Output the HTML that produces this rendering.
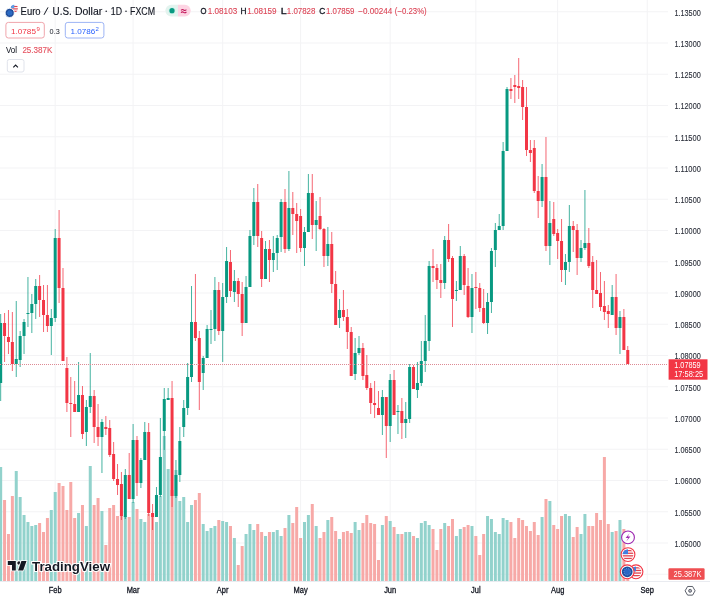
<!DOCTYPE html><html><head><meta charset="utf-8"><style>html,body{margin:0;padding:0;background:#fff;width:710px;height:600px;overflow:hidden}svg{position:absolute;left:0;top:0;font-family:"Liberation Sans",sans-serif;will-change:transform}</style></head><body>
<svg width="710" height="600" viewBox="0 0 710 600">
<rect width="710" height="600" fill="#fff"/>
<g stroke="#f3f3f5" stroke-width="1"><line x1="0" y1="11.75" x2="668" y2="11.75"/><line x1="0" y1="43.00" x2="668" y2="43.00"/><line x1="0" y1="74.25" x2="668" y2="74.25"/><line x1="0" y1="105.50" x2="668" y2="105.50"/><line x1="0" y1="136.75" x2="668" y2="136.75"/><line x1="0" y1="168.00" x2="668" y2="168.00"/><line x1="0" y1="199.25" x2="668" y2="199.25"/><line x1="0" y1="230.50" x2="668" y2="230.50"/><line x1="0" y1="261.75" x2="668" y2="261.75"/><line x1="0" y1="293.00" x2="668" y2="293.00"/><line x1="0" y1="324.25" x2="668" y2="324.25"/><line x1="0" y1="355.50" x2="668" y2="355.50"/><line x1="0" y1="386.75" x2="668" y2="386.75"/><line x1="0" y1="418.00" x2="668" y2="418.00"/><line x1="0" y1="449.25" x2="668" y2="449.25"/><line x1="0" y1="480.50" x2="668" y2="480.50"/><line x1="0" y1="511.75" x2="668" y2="511.75"/><line x1="0" y1="543.00" x2="668" y2="543.00"/><line x1="0" y1="574.25" x2="668" y2="574.25"/><line x1="55.20" y1="0" x2="55.20" y2="581"/><line x1="133.10" y1="0" x2="133.10" y2="581"/><line x1="222.69" y1="0" x2="222.69" y2="581"/><line x1="300.59" y1="0" x2="300.59" y2="581"/><line x1="390.17" y1="0" x2="390.17" y2="581"/><line x1="475.86" y1="0" x2="475.86" y2="581"/><line x1="557.65" y1="0" x2="557.65" y2="581"/><line x1="647.24" y1="0" x2="647.24" y2="581"/></g>
<g><rect x="-0.83" y="467.0" width="3" height="114.0" fill="#92d2cc"/><rect x="3.07" y="500.0" width="3" height="81.0" fill="#f7a9a7"/><rect x="6.96" y="534.0" width="3" height="47.0" fill="#f7a9a7"/><rect x="10.86" y="496.0" width="3" height="85.0" fill="#f7a9a7"/><rect x="14.75" y="471.0" width="3" height="110.0" fill="#92d2cc"/><rect x="18.65" y="497.0" width="3" height="84.0" fill="#92d2cc"/><rect x="22.54" y="515.0" width="3" height="66.0" fill="#92d2cc"/><rect x="26.44" y="522.0" width="3" height="59.0" fill="#92d2cc"/><rect x="30.33" y="526.0" width="3" height="55.0" fill="#92d2cc"/><rect x="34.23" y="525.0" width="3" height="56.0" fill="#92d2cc"/><rect x="38.12" y="523.0" width="3" height="58.0" fill="#f7a9a7"/><rect x="42.02" y="532.0" width="3" height="49.0" fill="#f7a9a7"/><rect x="45.91" y="518.0" width="3" height="63.0" fill="#f7a9a7"/><rect x="49.80" y="510.0" width="3" height="71.0" fill="#92d2cc"/><rect x="53.70" y="492.0" width="3" height="89.0" fill="#92d2cc"/><rect x="57.59" y="483.0" width="3" height="98.0" fill="#f7a9a7"/><rect x="61.49" y="486.0" width="3" height="95.0" fill="#f7a9a7"/><rect x="65.39" y="510.0" width="3" height="71.0" fill="#f7a9a7"/><rect x="69.28" y="482.0" width="3" height="99.0" fill="#f7a9a7"/><rect x="73.17" y="518.0" width="3" height="63.0" fill="#f7a9a7"/><rect x="77.07" y="513.0" width="3" height="68.0" fill="#92d2cc"/><rect x="80.97" y="505.0" width="3" height="76.0" fill="#f7a9a7"/><rect x="84.86" y="526.0" width="3" height="55.0" fill="#92d2cc"/><rect x="88.75" y="466.0" width="3" height="115.0" fill="#92d2cc"/><rect x="92.65" y="505.0" width="3" height="76.0" fill="#f7a9a7"/><rect x="96.55" y="498.0" width="3" height="83.0" fill="#f7a9a7"/><rect x="100.44" y="511.0" width="3" height="70.0" fill="#92d2cc"/><rect x="104.34" y="545.0" width="3" height="36.0" fill="#f7a9a7"/><rect x="108.23" y="508.0" width="3" height="73.0" fill="#f7a9a7"/><rect x="112.12" y="505.0" width="3" height="76.0" fill="#f7a9a7"/><rect x="116.02" y="516.0" width="3" height="65.0" fill="#f7a9a7"/><rect x="119.92" y="515.0" width="3" height="66.0" fill="#f7a9a7"/><rect x="123.81" y="516.0" width="3" height="65.0" fill="#92d2cc"/><rect x="127.70" y="517.0" width="3" height="64.0" fill="#f7a9a7"/><rect x="131.60" y="502.0" width="3" height="79.0" fill="#92d2cc"/><rect x="135.49" y="509.0" width="3" height="72.0" fill="#f7a9a7"/><rect x="139.39" y="519.0" width="3" height="62.0" fill="#92d2cc"/><rect x="143.28" y="522.0" width="3" height="59.0" fill="#92d2cc"/><rect x="147.18" y="514.0" width="3" height="67.0" fill="#f7a9a7"/><rect x="151.07" y="517.0" width="3" height="64.0" fill="#f7a9a7"/><rect x="154.97" y="522.0" width="3" height="59.0" fill="#92d2cc"/><rect x="158.86" y="496.0" width="3" height="85.0" fill="#92d2cc"/><rect x="162.76" y="436.0" width="3" height="145.0" fill="#92d2cc"/><rect x="166.66" y="469.0" width="3" height="112.0" fill="#92d2cc"/><rect x="170.55" y="490.0" width="3" height="91.0" fill="#f7a9a7"/><rect x="174.44" y="470.0" width="3" height="111.0" fill="#92d2cc"/><rect x="178.34" y="501.0" width="3" height="80.0" fill="#92d2cc"/><rect x="182.23" y="497.0" width="3" height="84.0" fill="#92d2cc"/><rect x="186.13" y="522.0" width="3" height="59.0" fill="#92d2cc"/><rect x="190.02" y="505.0" width="3" height="76.0" fill="#92d2cc"/><rect x="193.92" y="500.0" width="3" height="81.0" fill="#f7a9a7"/><rect x="197.81" y="493.0" width="3" height="88.0" fill="#f7a9a7"/><rect x="201.71" y="524.0" width="3" height="57.0" fill="#92d2cc"/><rect x="205.60" y="531.0" width="3" height="50.0" fill="#92d2cc"/><rect x="209.50" y="528.0" width="3" height="53.0" fill="#92d2cc"/><rect x="213.39" y="526.0" width="3" height="55.0" fill="#92d2cc"/><rect x="217.29" y="520.0" width="3" height="61.0" fill="#f7a9a7"/><rect x="221.19" y="521.0" width="3" height="60.0" fill="#92d2cc"/><rect x="225.08" y="522.0" width="3" height="59.0" fill="#92d2cc"/><rect x="228.97" y="526.0" width="3" height="55.0" fill="#f7a9a7"/><rect x="232.87" y="538.0" width="3" height="43.0" fill="#92d2cc"/><rect x="236.76" y="565.0" width="3" height="16.0" fill="#f7a9a7"/><rect x="240.66" y="546.0" width="3" height="35.0" fill="#f7a9a7"/><rect x="244.55" y="534.0" width="3" height="47.0" fill="#92d2cc"/><rect x="248.45" y="524.0" width="3" height="57.0" fill="#92d2cc"/><rect x="252.34" y="530.0" width="3" height="51.0" fill="#92d2cc"/><rect x="256.24" y="524.0" width="3" height="57.0" fill="#f7a9a7"/><rect x="260.13" y="532.0" width="3" height="49.0" fill="#f7a9a7"/><rect x="264.03" y="536.0" width="3" height="45.0" fill="#92d2cc"/><rect x="267.93" y="532.0" width="3" height="49.0" fill="#f7a9a7"/><rect x="271.82" y="532.0" width="3" height="49.0" fill="#92d2cc"/><rect x="275.72" y="530.0" width="3" height="51.0" fill="#92d2cc"/><rect x="279.61" y="536.0" width="3" height="45.0" fill="#92d2cc"/><rect x="283.50" y="528.0" width="3" height="53.0" fill="#f7a9a7"/><rect x="287.40" y="515.0" width="3" height="66.0" fill="#92d2cc"/><rect x="291.30" y="523.0" width="3" height="58.0" fill="#f7a9a7"/><rect x="295.19" y="507.0" width="3" height="74.0" fill="#f7a9a7"/><rect x="299.09" y="538.0" width="3" height="43.0" fill="#f7a9a7"/><rect x="302.98" y="522.0" width="3" height="59.0" fill="#92d2cc"/><rect x="306.88" y="515.0" width="3" height="66.0" fill="#92d2cc"/><rect x="310.77" y="504.0" width="3" height="77.0" fill="#f7a9a7"/><rect x="314.67" y="526.0" width="3" height="55.0" fill="#92d2cc"/><rect x="318.56" y="538.0" width="3" height="43.0" fill="#f7a9a7"/><rect x="322.46" y="532.0" width="3" height="49.0" fill="#f7a9a7"/><rect x="326.35" y="520.0" width="3" height="61.0" fill="#92d2cc"/><rect x="330.25" y="517.0" width="3" height="64.0" fill="#f7a9a7"/><rect x="334.14" y="531.0" width="3" height="50.0" fill="#f7a9a7"/><rect x="338.04" y="539.0" width="3" height="42.0" fill="#92d2cc"/><rect x="341.93" y="532.0" width="3" height="49.0" fill="#f7a9a7"/><rect x="345.83" y="531.0" width="3" height="50.0" fill="#f7a9a7"/><rect x="349.72" y="533.0" width="3" height="48.0" fill="#f7a9a7"/><rect x="353.62" y="522.0" width="3" height="59.0" fill="#92d2cc"/><rect x="357.51" y="530.0" width="3" height="51.0" fill="#92d2cc"/><rect x="361.41" y="523.0" width="3" height="58.0" fill="#f7a9a7"/><rect x="365.30" y="515.0" width="3" height="66.0" fill="#f7a9a7"/><rect x="369.19" y="523.0" width="3" height="58.0" fill="#f7a9a7"/><rect x="373.09" y="524.0" width="3" height="57.0" fill="#f7a9a7"/><rect x="376.99" y="560.0" width="3" height="21.0" fill="#f7a9a7"/><rect x="380.88" y="525.0" width="3" height="56.0" fill="#92d2cc"/><rect x="384.78" y="516.0" width="3" height="65.0" fill="#f7a9a7"/><rect x="388.67" y="521.0" width="3" height="60.0" fill="#92d2cc"/><rect x="392.56" y="527.0" width="3" height="54.0" fill="#f7a9a7"/><rect x="396.46" y="534.0" width="3" height="47.0" fill="#92d2cc"/><rect x="400.36" y="534.0" width="3" height="47.0" fill="#f7a9a7"/><rect x="404.25" y="532.0" width="3" height="49.0" fill="#92d2cc"/><rect x="408.15" y="532.0" width="3" height="49.0" fill="#92d2cc"/><rect x="412.04" y="536.0" width="3" height="45.0" fill="#f7a9a7"/><rect x="415.94" y="538.0" width="3" height="43.0" fill="#92d2cc"/><rect x="419.83" y="523.0" width="3" height="58.0" fill="#92d2cc"/><rect x="423.73" y="521.0" width="3" height="60.0" fill="#92d2cc"/><rect x="427.62" y="525.0" width="3" height="56.0" fill="#92d2cc"/><rect x="431.52" y="529.0" width="3" height="52.0" fill="#f7a9a7"/><rect x="435.41" y="550.0" width="3" height="31.0" fill="#f7a9a7"/><rect x="439.31" y="529.0" width="3" height="52.0" fill="#f7a9a7"/><rect x="443.20" y="523.0" width="3" height="58.0" fill="#92d2cc"/><rect x="447.10" y="526.0" width="3" height="55.0" fill="#f7a9a7"/><rect x="450.99" y="519.0" width="3" height="62.0" fill="#f7a9a7"/><rect x="454.88" y="536.0" width="3" height="45.0" fill="#92d2cc"/><rect x="458.78" y="529.0" width="3" height="52.0" fill="#92d2cc"/><rect x="462.68" y="527.0" width="3" height="54.0" fill="#f7a9a7"/><rect x="466.57" y="525.0" width="3" height="56.0" fill="#f7a9a7"/><rect x="470.47" y="526.0" width="3" height="55.0" fill="#92d2cc"/><rect x="474.36" y="536.0" width="3" height="45.0" fill="#f7a9a7"/><rect x="478.25" y="555.0" width="3" height="26.0" fill="#f7a9a7"/><rect x="482.15" y="534.0" width="3" height="47.0" fill="#f7a9a7"/><rect x="486.05" y="516.0" width="3" height="65.0" fill="#92d2cc"/><rect x="489.94" y="519.0" width="3" height="62.0" fill="#92d2cc"/><rect x="493.84" y="532.0" width="3" height="49.0" fill="#92d2cc"/><rect x="497.73" y="534.0" width="3" height="47.0" fill="#92d2cc"/><rect x="501.62" y="518.0" width="3" height="63.0" fill="#92d2cc"/><rect x="505.52" y="520.0" width="3" height="61.0" fill="#92d2cc"/><rect x="509.42" y="522.0" width="3" height="59.0" fill="#f7a9a7"/><rect x="513.31" y="538.0" width="3" height="43.0" fill="#f7a9a7"/><rect x="517.20" y="518.0" width="3" height="63.0" fill="#f7a9a7"/><rect x="521.10" y="520.0" width="3" height="61.0" fill="#f7a9a7"/><rect x="525.00" y="526.0" width="3" height="55.0" fill="#f7a9a7"/><rect x="528.89" y="531.0" width="3" height="50.0" fill="#f7a9a7"/><rect x="532.78" y="522.0" width="3" height="59.0" fill="#f7a9a7"/><rect x="536.68" y="535.0" width="3" height="46.0" fill="#f7a9a7"/><rect x="540.57" y="517.0" width="3" height="64.0" fill="#92d2cc"/><rect x="544.47" y="499.0" width="3" height="82.0" fill="#f7a9a7"/><rect x="548.37" y="501.0" width="3" height="80.0" fill="#92d2cc"/><rect x="552.26" y="525.0" width="3" height="56.0" fill="#f7a9a7"/><rect x="556.15" y="529.0" width="3" height="52.0" fill="#f7a9a7"/><rect x="560.05" y="516.0" width="3" height="65.0" fill="#f7a9a7"/><rect x="563.94" y="514.0" width="3" height="67.0" fill="#92d2cc"/><rect x="567.84" y="516.0" width="3" height="65.0" fill="#92d2cc"/><rect x="571.74" y="537.0" width="3" height="44.0" fill="#f7a9a7"/><rect x="575.63" y="527.0" width="3" height="54.0" fill="#f7a9a7"/><rect x="579.52" y="534.0" width="3" height="47.0" fill="#92d2cc"/><rect x="583.42" y="514.0" width="3" height="67.0" fill="#92d2cc"/><rect x="587.31" y="526.0" width="3" height="55.0" fill="#f7a9a7"/><rect x="591.21" y="526.0" width="3" height="55.0" fill="#f7a9a7"/><rect x="595.11" y="513.0" width="3" height="68.0" fill="#f7a9a7"/><rect x="599.00" y="520.0" width="3" height="61.0" fill="#f7a9a7"/><rect x="602.89" y="457.0" width="3" height="124.0" fill="#f7a9a7"/><rect x="606.79" y="524.0" width="3" height="57.0" fill="#f7a9a7"/><rect x="610.68" y="532.0" width="3" height="49.0" fill="#92d2cc"/><rect x="614.58" y="531.0" width="3" height="50.0" fill="#f7a9a7"/><rect x="618.47" y="520.0" width="3" height="61.0" fill="#92d2cc"/><rect x="622.37" y="529.0" width="3" height="52.0" fill="#f7a9a7"/><rect x="626.26" y="574.0" width="3" height="7.0" fill="#f7a9a7"/></g>
<g><rect x="0.17" y="314.0" width="1" height="87.0" fill="#089981" opacity="0.75"/><rect x="-0.83" y="323.0" width="3" height="60.0" fill="#089981"/><rect x="4.07" y="313.0" width="1" height="49.0" fill="#f23645" opacity="0.75"/><rect x="3.07" y="323.0" width="3" height="13.0" fill="#f23645"/><rect x="7.96" y="310.0" width="1" height="44.0" fill="#f23645" opacity="0.75"/><rect x="6.96" y="337.0" width="3" height="5.0" fill="#f23645"/><rect x="11.86" y="312.0" width="1" height="59.0" fill="#f23645" opacity="0.75"/><rect x="10.86" y="342.0" width="3" height="22.0" fill="#f23645"/><rect x="15.75" y="301.0" width="1" height="76.0" fill="#089981" opacity="0.75"/><rect x="14.75" y="359.0" width="3" height="5.0" fill="#089981"/><rect x="19.65" y="331.0" width="1" height="36.0" fill="#089981" opacity="0.75"/><rect x="18.65" y="336.0" width="3" height="24.0" fill="#089981"/><rect x="23.54" y="319.0" width="1" height="35.0" fill="#089981" opacity="0.75"/><rect x="22.54" y="322.0" width="3" height="14.0" fill="#089981"/><rect x="27.44" y="277.0" width="1" height="50.0" fill="#089981" opacity="0.75"/><rect x="26.44" y="313.0" width="3" height="1.0" fill="#089981"/><rect x="31.33" y="294.0" width="1" height="39.0" fill="#089981" opacity="0.75"/><rect x="30.33" y="304.0" width="3" height="9.0" fill="#089981"/><rect x="35.23" y="279.0" width="1" height="40.0" fill="#089981" opacity="0.75"/><rect x="34.23" y="286.0" width="3" height="18.0" fill="#089981"/><rect x="39.12" y="275.0" width="1" height="42.0" fill="#f23645" opacity="0.75"/><rect x="38.12" y="286.0" width="3" height="14.0" fill="#f23645"/><rect x="43.02" y="285.0" width="1" height="47.0" fill="#f23645" opacity="0.75"/><rect x="42.02" y="300.0" width="3" height="15.0" fill="#f23645"/><rect x="46.91" y="285.0" width="1" height="47.0" fill="#f23645" opacity="0.75"/><rect x="45.91" y="315.0" width="3" height="11.0" fill="#f23645"/><rect x="50.80" y="309.0" width="1" height="46.0" fill="#089981" opacity="0.75"/><rect x="49.80" y="318.0" width="3" height="8.0" fill="#089981"/><rect x="54.70" y="229.0" width="1" height="93.0" fill="#089981" opacity="0.75"/><rect x="53.70" y="238.0" width="3" height="80.0" fill="#089981"/><rect x="58.59" y="210.0" width="1" height="93.0" fill="#f23645" opacity="0.75"/><rect x="57.59" y="238.0" width="3" height="50.0" fill="#f23645"/><rect x="62.49" y="268.0" width="1" height="93.0" fill="#f23645" opacity="0.75"/><rect x="61.49" y="288.0" width="3" height="73.0" fill="#f23645"/><rect x="66.39" y="357.0" width="1" height="55.0" fill="#f23645" opacity="0.75"/><rect x="65.39" y="368.0" width="3" height="35.0" fill="#f23645"/><rect x="70.28" y="377.0" width="1" height="60.0" fill="#f23645" opacity="0.75"/><rect x="69.28" y="403.0" width="3" height="1.0" fill="#f23645"/><rect x="74.17" y="381.0" width="1" height="31.0" fill="#f23645" opacity="0.75"/><rect x="73.17" y="404.0" width="3" height="8.0" fill="#f23645"/><rect x="78.07" y="362.0" width="1" height="50.0" fill="#089981" opacity="0.75"/><rect x="77.07" y="395.0" width="3" height="17.0" fill="#089981"/><rect x="81.97" y="386.0" width="1" height="53.0" fill="#f23645" opacity="0.75"/><rect x="80.97" y="395.0" width="3" height="39.0" fill="#f23645"/><rect x="85.86" y="400.0" width="1" height="46.0" fill="#089981" opacity="0.75"/><rect x="84.86" y="407.0" width="3" height="25.0" fill="#089981"/><rect x="89.75" y="353.0" width="1" height="60.0" fill="#089981" opacity="0.75"/><rect x="88.75" y="396.0" width="3" height="11.0" fill="#089981"/><rect x="93.65" y="390.0" width="1" height="53.0" fill="#f23645" opacity="0.75"/><rect x="92.65" y="396.0" width="3" height="31.0" fill="#f23645"/><rect x="97.55" y="404.0" width="1" height="42.0" fill="#f23645" opacity="0.75"/><rect x="96.55" y="427.0" width="3" height="10.0" fill="#f23645"/><rect x="101.44" y="419.0" width="1" height="54.0" fill="#089981" opacity="0.75"/><rect x="100.44" y="422.0" width="3" height="15.0" fill="#089981"/><rect x="105.34" y="416.0" width="1" height="19.0" fill="#f23645" opacity="0.75"/><rect x="104.34" y="427.0" width="3" height="2.0" fill="#f23645"/><rect x="109.23" y="420.0" width="1" height="37.0" fill="#f23645" opacity="0.75"/><rect x="108.23" y="428.0" width="3" height="27.0" fill="#f23645"/><rect x="113.12" y="442.0" width="1" height="39.0" fill="#f23645" opacity="0.75"/><rect x="112.12" y="454.0" width="3" height="25.0" fill="#f23645"/><rect x="117.02" y="464.0" width="1" height="31.0" fill="#f23645" opacity="0.75"/><rect x="116.02" y="479.0" width="3" height="6.0" fill="#f23645"/><rect x="120.92" y="472.0" width="1" height="48.0" fill="#f23645" opacity="0.75"/><rect x="119.92" y="484.0" width="3" height="32.0" fill="#f23645"/><rect x="124.81" y="469.0" width="1" height="50.0" fill="#089981" opacity="0.75"/><rect x="123.81" y="475.0" width="3" height="42.0" fill="#089981"/><rect x="128.70" y="453.0" width="1" height="46.0" fill="#f23645" opacity="0.75"/><rect x="127.70" y="475.0" width="3" height="24.0" fill="#f23645"/><rect x="132.60" y="424.0" width="1" height="79.0" fill="#089981" opacity="0.75"/><rect x="131.60" y="440.0" width="3" height="59.0" fill="#089981"/><rect x="136.49" y="436.0" width="1" height="60.0" fill="#f23645" opacity="0.75"/><rect x="135.49" y="440.0" width="3" height="43.0" fill="#f23645"/><rect x="140.39" y="458.0" width="1" height="30.0" fill="#089981" opacity="0.75"/><rect x="139.39" y="460.0" width="3" height="23.0" fill="#089981"/><rect x="144.28" y="422.0" width="1" height="38.0" fill="#089981" opacity="0.75"/><rect x="143.28" y="432.0" width="3" height="28.0" fill="#089981"/><rect x="148.18" y="423.0" width="1" height="93.0" fill="#f23645" opacity="0.75"/><rect x="147.18" y="432.0" width="3" height="81.0" fill="#f23645"/><rect x="152.07" y="504.0" width="1" height="26.0" fill="#f23645" opacity="0.75"/><rect x="151.07" y="513.0" width="3" height="4.0" fill="#f23645"/><rect x="155.97" y="487.0" width="1" height="30.0" fill="#089981" opacity="0.75"/><rect x="154.97" y="495.0" width="3" height="22.0" fill="#089981"/><rect x="159.86" y="418.0" width="1" height="79.0" fill="#089981" opacity="0.75"/><rect x="158.86" y="457.0" width="3" height="38.0" fill="#089981"/><rect x="163.76" y="388.0" width="1" height="62.0" fill="#089981" opacity="0.75"/><rect x="162.76" y="399.0" width="3" height="32.0" fill="#089981"/><rect x="167.66" y="388.0" width="1" height="12.0" fill="#089981" opacity="0.75"/><rect x="166.66" y="398.0" width="3" height="2.0" fill="#089981"/><rect x="171.55" y="381.0" width="1" height="126.0" fill="#f23645" opacity="0.75"/><rect x="170.55" y="398.0" width="3" height="98.0" fill="#f23645"/><rect x="175.44" y="460.0" width="1" height="38.0" fill="#089981" opacity="0.75"/><rect x="174.44" y="475.0" width="3" height="21.0" fill="#089981"/><rect x="179.34" y="427.0" width="1" height="55.0" fill="#089981" opacity="0.75"/><rect x="178.34" y="441.0" width="3" height="34.0" fill="#089981"/><rect x="183.23" y="400.0" width="1" height="37.0" fill="#089981" opacity="0.75"/><rect x="182.23" y="408.0" width="3" height="19.0" fill="#089981"/><rect x="187.13" y="363.0" width="1" height="52.0" fill="#089981" opacity="0.75"/><rect x="186.13" y="377.0" width="3" height="31.0" fill="#089981"/><rect x="191.02" y="286.0" width="1" height="96.0" fill="#089981" opacity="0.75"/><rect x="190.02" y="322.0" width="3" height="55.0" fill="#089981"/><rect x="194.92" y="274.0" width="1" height="67.0" fill="#f23645" opacity="0.75"/><rect x="193.92" y="322.0" width="3" height="16.0" fill="#f23645"/><rect x="198.81" y="331.0" width="1" height="79.0" fill="#f23645" opacity="0.75"/><rect x="197.81" y="338.0" width="3" height="44.0" fill="#f23645"/><rect x="202.71" y="356.0" width="1" height="34.0" fill="#089981" opacity="0.75"/><rect x="201.71" y="358.0" width="3" height="15.0" fill="#089981"/><rect x="206.60" y="325.0" width="1" height="33.0" fill="#089981" opacity="0.75"/><rect x="205.60" y="329.0" width="3" height="29.0" fill="#089981"/><rect x="210.50" y="310.0" width="1" height="34.0" fill="#089981" opacity="0.75"/><rect x="209.50" y="329.0" width="3" height="1.0" fill="#089981"/><rect x="214.39" y="277.0" width="1" height="64.0" fill="#089981" opacity="0.75"/><rect x="213.39" y="290.0" width="3" height="39.0" fill="#089981"/><rect x="218.29" y="282.0" width="1" height="53.0" fill="#f23645" opacity="0.75"/><rect x="217.29" y="290.0" width="3" height="41.0" fill="#f23645"/><rect x="222.19" y="283.0" width="1" height="79.0" fill="#089981" opacity="0.75"/><rect x="221.19" y="297.0" width="3" height="34.0" fill="#089981"/><rect x="226.08" y="247.0" width="1" height="56.0" fill="#089981" opacity="0.75"/><rect x="225.08" y="261.0" width="3" height="36.0" fill="#089981"/><rect x="229.97" y="250.0" width="1" height="47.0" fill="#f23645" opacity="0.75"/><rect x="228.97" y="262.0" width="3" height="29.0" fill="#f23645"/><rect x="233.87" y="270.0" width="1" height="32.0" fill="#089981" opacity="0.75"/><rect x="232.87" y="281.0" width="3" height="11.0" fill="#089981"/><rect x="237.76" y="278.0" width="1" height="29.0" fill="#f23645" opacity="0.75"/><rect x="236.76" y="281.0" width="3" height="13.0" fill="#f23645"/><rect x="241.66" y="282.0" width="1" height="54.0" fill="#f23645" opacity="0.75"/><rect x="240.66" y="294.0" width="3" height="29.0" fill="#f23645"/><rect x="245.55" y="276.0" width="1" height="47.0" fill="#089981" opacity="0.75"/><rect x="244.55" y="287.0" width="3" height="36.0" fill="#089981"/><rect x="249.45" y="230.0" width="1" height="57.0" fill="#089981" opacity="0.75"/><rect x="248.45" y="236.0" width="3" height="51.0" fill="#089981"/><rect x="253.34" y="188.0" width="1" height="57.0" fill="#089981" opacity="0.75"/><rect x="252.34" y="202.0" width="3" height="34.0" fill="#089981"/><rect x="257.24" y="184.0" width="1" height="63.0" fill="#f23645" opacity="0.75"/><rect x="256.24" y="202.0" width="3" height="34.0" fill="#f23645"/><rect x="261.13" y="231.0" width="1" height="56.0" fill="#f23645" opacity="0.75"/><rect x="260.13" y="238.0" width="3" height="41.0" fill="#f23645"/><rect x="265.03" y="241.0" width="1" height="38.0" fill="#089981" opacity="0.75"/><rect x="264.03" y="249.0" width="3" height="30.0" fill="#089981"/><rect x="268.93" y="240.0" width="1" height="42.0" fill="#f23645" opacity="0.75"/><rect x="267.93" y="249.0" width="3" height="11.0" fill="#f23645"/><rect x="272.82" y="236.0" width="1" height="36.0" fill="#089981" opacity="0.75"/><rect x="271.82" y="253.0" width="3" height="7.0" fill="#089981"/><rect x="276.72" y="235.0" width="1" height="35.0" fill="#089981" opacity="0.75"/><rect x="275.72" y="238.0" width="3" height="15.0" fill="#089981"/><rect x="280.61" y="199.0" width="1" height="53.0" fill="#089981" opacity="0.75"/><rect x="279.61" y="202.0" width="3" height="35.0" fill="#089981"/><rect x="284.50" y="189.0" width="1" height="64.0" fill="#f23645" opacity="0.75"/><rect x="283.50" y="202.0" width="3" height="47.0" fill="#f23645"/><rect x="288.40" y="171.0" width="1" height="80.0" fill="#089981" opacity="0.75"/><rect x="287.40" y="208.0" width="3" height="41.0" fill="#089981"/><rect x="292.30" y="192.0" width="1" height="43.0" fill="#f23645" opacity="0.75"/><rect x="291.30" y="208.0" width="3" height="6.0" fill="#f23645"/><rect x="296.19" y="203.0" width="1" height="50.0" fill="#f23645" opacity="0.75"/><rect x="295.19" y="214.0" width="3" height="7.0" fill="#f23645"/><rect x="300.09" y="209.0" width="1" height="43.0" fill="#f23645" opacity="0.75"/><rect x="299.09" y="216.0" width="3" height="32.0" fill="#f23645"/><rect x="303.98" y="227.0" width="1" height="39.0" fill="#089981" opacity="0.75"/><rect x="302.98" y="232.0" width="3" height="16.0" fill="#089981"/><rect x="307.88" y="174.0" width="1" height="58.0" fill="#089981" opacity="0.75"/><rect x="306.88" y="193.0" width="3" height="39.0" fill="#089981"/><rect x="311.77" y="174.0" width="1" height="65.0" fill="#f23645" opacity="0.75"/><rect x="310.77" y="193.0" width="3" height="32.0" fill="#f23645"/><rect x="315.67" y="201.0" width="1" height="50.0" fill="#089981" opacity="0.75"/><rect x="314.67" y="220.0" width="3" height="5.0" fill="#089981"/><rect x="319.56" y="197.0" width="1" height="33.0" fill="#f23645" opacity="0.75"/><rect x="318.56" y="216.0" width="3" height="13.0" fill="#f23645"/><rect x="323.46" y="228.0" width="1" height="39.0" fill="#f23645" opacity="0.75"/><rect x="322.46" y="229.0" width="3" height="27.0" fill="#f23645"/><rect x="327.35" y="227.0" width="1" height="39.0" fill="#089981" opacity="0.75"/><rect x="326.35" y="244.0" width="3" height="12.0" fill="#089981"/><rect x="331.25" y="232.0" width="1" height="61.0" fill="#f23645" opacity="0.75"/><rect x="330.25" y="244.0" width="3" height="40.0" fill="#f23645"/><rect x="335.14" y="271.0" width="1" height="54.0" fill="#f23645" opacity="0.75"/><rect x="334.14" y="284.0" width="3" height="41.0" fill="#f23645"/><rect x="339.04" y="299.0" width="1" height="29.0" fill="#089981" opacity="0.75"/><rect x="338.04" y="310.0" width="3" height="8.0" fill="#089981"/><rect x="342.93" y="290.0" width="1" height="31.0" fill="#f23645" opacity="0.75"/><rect x="341.93" y="310.0" width="3" height="7.0" fill="#f23645"/><rect x="346.83" y="309.0" width="1" height="40.0" fill="#f23645" opacity="0.75"/><rect x="345.83" y="317.0" width="3" height="15.0" fill="#f23645"/><rect x="350.72" y="327.0" width="1" height="49.0" fill="#f23645" opacity="0.75"/><rect x="349.72" y="332.0" width="3" height="44.0" fill="#f23645"/><rect x="354.62" y="338.0" width="1" height="42.0" fill="#089981" opacity="0.75"/><rect x="353.62" y="353.0" width="3" height="21.0" fill="#089981"/><rect x="358.51" y="336.0" width="1" height="19.0" fill="#089981" opacity="0.75"/><rect x="357.51" y="348.0" width="3" height="5.0" fill="#089981"/><rect x="362.41" y="343.0" width="1" height="37.0" fill="#f23645" opacity="0.75"/><rect x="361.41" y="348.0" width="3" height="28.0" fill="#f23645"/><rect x="366.30" y="355.0" width="1" height="35.0" fill="#f23645" opacity="0.75"/><rect x="365.30" y="375.0" width="3" height="13.0" fill="#f23645"/><rect x="370.19" y="383.0" width="1" height="31.0" fill="#f23645" opacity="0.75"/><rect x="369.19" y="388.0" width="3" height="15.0" fill="#f23645"/><rect x="374.09" y="381.0" width="1" height="37.0" fill="#f23645" opacity="0.75"/><rect x="373.09" y="403.0" width="3" height="2.0" fill="#f23645"/><rect x="377.99" y="391.0" width="1" height="24.0" fill="#f23645" opacity="0.75"/><rect x="376.99" y="408.0" width="3" height="7.0" fill="#f23645"/><rect x="381.88" y="390.0" width="1" height="45.0" fill="#089981" opacity="0.75"/><rect x="380.88" y="397.0" width="3" height="18.0" fill="#089981"/><rect x="385.78" y="398.0" width="1" height="60.0" fill="#f23645" opacity="0.75"/><rect x="384.78" y="397.0" width="3" height="29.0" fill="#f23645"/><rect x="389.67" y="374.0" width="1" height="68.0" fill="#089981" opacity="0.75"/><rect x="388.67" y="380.0" width="3" height="46.0" fill="#089981"/><rect x="393.56" y="370.0" width="1" height="45.0" fill="#f23645" opacity="0.75"/><rect x="392.56" y="380.0" width="3" height="35.0" fill="#f23645"/><rect x="397.46" y="405.0" width="1" height="29.0" fill="#089981" opacity="0.75"/><rect x="396.46" y="411.0" width="3" height="1.0" fill="#089981"/><rect x="401.36" y="398.0" width="1" height="41.0" fill="#f23645" opacity="0.75"/><rect x="400.36" y="411.0" width="3" height="12.0" fill="#f23645"/><rect x="405.25" y="402.0" width="1" height="36.0" fill="#089981" opacity="0.75"/><rect x="404.25" y="419.0" width="3" height="4.0" fill="#089981"/><rect x="409.15" y="364.0" width="1" height="59.0" fill="#089981" opacity="0.75"/><rect x="408.15" y="367.0" width="3" height="52.0" fill="#089981"/><rect x="413.04" y="365.0" width="1" height="24.0" fill="#f23645" opacity="0.75"/><rect x="412.04" y="367.0" width="3" height="22.0" fill="#f23645"/><rect x="416.94" y="362.0" width="1" height="36.0" fill="#089981" opacity="0.75"/><rect x="415.94" y="383.0" width="3" height="7.0" fill="#089981"/><rect x="420.83" y="341.0" width="1" height="45.0" fill="#089981" opacity="0.75"/><rect x="419.83" y="361.0" width="3" height="22.0" fill="#089981"/><rect x="424.73" y="315.0" width="1" height="57.0" fill="#089981" opacity="0.75"/><rect x="423.73" y="341.0" width="3" height="20.0" fill="#089981"/><rect x="428.62" y="261.0" width="1" height="90.0" fill="#089981" opacity="0.75"/><rect x="427.62" y="266.0" width="3" height="75.0" fill="#089981"/><rect x="432.52" y="249.0" width="1" height="33.0" fill="#f23645" opacity="0.75"/><rect x="431.52" y="266.0" width="3" height="2.0" fill="#f23645"/><rect x="436.41" y="264.0" width="1" height="25.0" fill="#f23645" opacity="0.75"/><rect x="435.41" y="268.0" width="3" height="12.0" fill="#f23645"/><rect x="440.31" y="264.0" width="1" height="34.0" fill="#f23645" opacity="0.75"/><rect x="439.31" y="280.0" width="3" height="3.0" fill="#f23645"/><rect x="444.20" y="236.0" width="1" height="53.0" fill="#089981" opacity="0.75"/><rect x="443.20" y="240.0" width="3" height="43.0" fill="#089981"/><rect x="448.10" y="224.0" width="1" height="38.0" fill="#f23645" opacity="0.75"/><rect x="447.10" y="240.0" width="3" height="19.0" fill="#f23645"/><rect x="451.99" y="256.0" width="1" height="71.0" fill="#f23645" opacity="0.75"/><rect x="450.99" y="258.0" width="3" height="41.0" fill="#f23645"/><rect x="455.88" y="281.0" width="1" height="20.0" fill="#089981" opacity="0.75"/><rect x="454.88" y="290.0" width="3" height="1.0" fill="#089981"/><rect x="459.78" y="246.0" width="1" height="44.0" fill="#089981" opacity="0.75"/><rect x="458.78" y="256.0" width="3" height="34.0" fill="#089981"/><rect x="463.68" y="254.0" width="1" height="41.0" fill="#f23645" opacity="0.75"/><rect x="462.68" y="256.0" width="3" height="29.0" fill="#f23645"/><rect x="467.57" y="268.0" width="1" height="50.0" fill="#f23645" opacity="0.75"/><rect x="466.57" y="286.0" width="3" height="31.0" fill="#f23645"/><rect x="471.47" y="274.0" width="1" height="59.0" fill="#089981" opacity="0.75"/><rect x="470.47" y="288.0" width="3" height="29.0" fill="#089981"/><rect x="475.36" y="272.0" width="1" height="37.0" fill="#f23645" opacity="0.75"/><rect x="474.36" y="287.0" width="3" height="1.0" fill="#f23645"/><rect x="479.25" y="283.0" width="1" height="29.0" fill="#f23645" opacity="0.75"/><rect x="478.25" y="288.0" width="3" height="20.0" fill="#f23645"/><rect x="483.15" y="289.0" width="1" height="35.0" fill="#f23645" opacity="0.75"/><rect x="482.15" y="308.0" width="3" height="15.0" fill="#f23645"/><rect x="487.05" y="293.0" width="1" height="41.0" fill="#089981" opacity="0.75"/><rect x="486.05" y="302.0" width="3" height="21.0" fill="#089981"/><rect x="490.94" y="248.0" width="1" height="65.0" fill="#089981" opacity="0.75"/><rect x="489.94" y="251.0" width="3" height="51.0" fill="#089981"/><rect x="494.84" y="223.0" width="1" height="44.0" fill="#089981" opacity="0.75"/><rect x="493.84" y="230.0" width="3" height="20.0" fill="#089981"/><rect x="498.73" y="214.0" width="1" height="16.0" fill="#089981" opacity="0.75"/><rect x="497.73" y="226.0" width="3" height="4.0" fill="#089981"/><rect x="502.62" y="142.0" width="1" height="88.0" fill="#089981" opacity="0.75"/><rect x="501.62" y="151.0" width="3" height="75.0" fill="#089981"/><rect x="506.52" y="87.0" width="1" height="64.0" fill="#089981" opacity="0.75"/><rect x="505.52" y="89.0" width="3" height="62.0" fill="#089981"/><rect x="510.42" y="78.0" width="1" height="21.0" fill="#f23645" opacity="0.75"/><rect x="509.42" y="89.0" width="3" height="2.0" fill="#f23645"/><rect x="514.31" y="75.0" width="1" height="28.0" fill="#f23645" opacity="0.75"/><rect x="513.31" y="85.0" width="3" height="2.0" fill="#f23645"/><rect x="518.20" y="58.0" width="1" height="41.0" fill="#f23645" opacity="0.75"/><rect x="517.20" y="86.0" width="3" height="2.0" fill="#f23645"/><rect x="522.10" y="80.0" width="1" height="40.0" fill="#f23645" opacity="0.75"/><rect x="521.10" y="87.0" width="3" height="20.0" fill="#f23645"/><rect x="526.00" y="87.0" width="1" height="69.0" fill="#f23645" opacity="0.75"/><rect x="525.00" y="107.0" width="3" height="43.0" fill="#f23645"/><rect x="529.89" y="140.0" width="1" height="22.0" fill="#f23645" opacity="0.75"/><rect x="528.89" y="150.0" width="3" height="3.0" fill="#f23645"/><rect x="533.78" y="140.0" width="1" height="53.0" fill="#f23645" opacity="0.75"/><rect x="532.78" y="148.0" width="3" height="43.0" fill="#f23645"/><rect x="537.68" y="176.0" width="1" height="42.0" fill="#f23645" opacity="0.75"/><rect x="536.68" y="191.0" width="3" height="10.0" fill="#f23645"/><rect x="541.57" y="164.0" width="1" height="43.0" fill="#089981" opacity="0.75"/><rect x="540.57" y="177.0" width="3" height="24.0" fill="#089981"/><rect x="545.47" y="137.0" width="1" height="114.0" fill="#f23645" opacity="0.75"/><rect x="544.47" y="177.0" width="3" height="69.0" fill="#f23645"/><rect x="549.37" y="201.0" width="1" height="64.0" fill="#089981" opacity="0.75"/><rect x="548.37" y="223.0" width="3" height="23.0" fill="#089981"/><rect x="553.26" y="202.0" width="1" height="34.0" fill="#f23645" opacity="0.75"/><rect x="552.26" y="219.0" width="3" height="15.0" fill="#f23645"/><rect x="557.15" y="229.0" width="1" height="30.0" fill="#f23645" opacity="0.75"/><rect x="556.15" y="233.0" width="3" height="8.0" fill="#f23645"/><rect x="561.05" y="219.0" width="1" height="63.0" fill="#f23645" opacity="0.75"/><rect x="560.05" y="241.0" width="3" height="29.0" fill="#f23645"/><rect x="564.94" y="254.0" width="1" height="31.0" fill="#089981" opacity="0.75"/><rect x="563.94" y="262.0" width="3" height="8.0" fill="#089981"/><rect x="568.84" y="205.0" width="1" height="67.0" fill="#089981" opacity="0.75"/><rect x="567.84" y="226.0" width="3" height="36.0" fill="#089981"/><rect x="572.74" y="221.0" width="1" height="31.0" fill="#f23645" opacity="0.75"/><rect x="571.74" y="226.0" width="3" height="4.0" fill="#f23645"/><rect x="576.63" y="224.0" width="1" height="51.0" fill="#f23645" opacity="0.75"/><rect x="575.63" y="230.0" width="3" height="28.0" fill="#f23645"/><rect x="580.52" y="240.0" width="1" height="22.0" fill="#089981" opacity="0.75"/><rect x="579.52" y="248.0" width="3" height="10.0" fill="#089981"/><rect x="584.42" y="190.0" width="1" height="60.0" fill="#089981" opacity="0.75"/><rect x="583.42" y="243.0" width="3" height="5.0" fill="#089981"/><rect x="588.31" y="228.0" width="1" height="40.0" fill="#f23645" opacity="0.75"/><rect x="587.31" y="243.0" width="3" height="23.0" fill="#f23645"/><rect x="592.21" y="256.0" width="1" height="52.0" fill="#f23645" opacity="0.75"/><rect x="591.21" y="262.0" width="3" height="28.0" fill="#f23645"/><rect x="596.11" y="260.0" width="1" height="34.0" fill="#f23645" opacity="0.75"/><rect x="595.11" y="290.0" width="3" height="4.0" fill="#f23645"/><rect x="600.00" y="272.0" width="1" height="39.0" fill="#f23645" opacity="0.75"/><rect x="599.00" y="293.0" width="3" height="14.0" fill="#f23645"/><rect x="603.89" y="281.0" width="1" height="39.0" fill="#f23645" opacity="0.75"/><rect x="602.89" y="306.0" width="3" height="6.0" fill="#f23645"/><rect x="607.79" y="305.0" width="1" height="23.0" fill="#f23645" opacity="0.75"/><rect x="606.79" y="311.0" width="3" height="3.0" fill="#f23645"/><rect x="611.68" y="285.0" width="1" height="30.0" fill="#089981" opacity="0.75"/><rect x="610.68" y="297.0" width="3" height="18.0" fill="#089981"/><rect x="615.58" y="274.0" width="1" height="61.0" fill="#f23645" opacity="0.75"/><rect x="614.58" y="297.0" width="3" height="31.0" fill="#f23645"/><rect x="619.47" y="311.0" width="1" height="43.0" fill="#089981" opacity="0.75"/><rect x="618.47" y="317.0" width="3" height="11.0" fill="#089981"/><rect x="623.37" y="309.0" width="1" height="41.0" fill="#f23645" opacity="0.75"/><rect x="622.37" y="317.0" width="3" height="33.0" fill="#f23645"/><rect x="627.26" y="346.0" width="1" height="18.0" fill="#f23645" opacity="0.75"/><rect x="626.26" y="350.0" width="3" height="14.0" fill="#f23645"/></g>
<line x1="0" y1="364.5" x2="668" y2="364.5" stroke="#dd8a94" stroke-width="1" stroke-dasharray="1,1"/>
<g font-size="8.9" fill="#2a2e39" stroke="#2a2e39" stroke-width="0.1"><text x="674.4" y="15.60" textLength="26.4" lengthAdjust="spacingAndGlyphs">1.13500</text><text x="674.4" y="46.85" textLength="26.4" lengthAdjust="spacingAndGlyphs">1.13000</text><text x="674.4" y="78.10" textLength="26.4" lengthAdjust="spacingAndGlyphs">1.12500</text><text x="674.4" y="109.35" textLength="26.4" lengthAdjust="spacingAndGlyphs">1.12000</text><text x="674.4" y="140.60" textLength="26.4" lengthAdjust="spacingAndGlyphs">1.11500</text><text x="674.4" y="171.85" textLength="26.4" lengthAdjust="spacingAndGlyphs">1.11000</text><text x="674.4" y="203.10" textLength="26.4" lengthAdjust="spacingAndGlyphs">1.10500</text><text x="674.4" y="234.35" textLength="26.4" lengthAdjust="spacingAndGlyphs">1.10000</text><text x="674.4" y="265.60" textLength="26.4" lengthAdjust="spacingAndGlyphs">1.09500</text><text x="674.4" y="296.85" textLength="26.4" lengthAdjust="spacingAndGlyphs">1.09000</text><text x="674.4" y="328.10" textLength="26.4" lengthAdjust="spacingAndGlyphs">1.08500</text><text x="674.4" y="359.35" textLength="26.4" lengthAdjust="spacingAndGlyphs">1.08000</text><text x="674.4" y="390.60" textLength="26.4" lengthAdjust="spacingAndGlyphs">1.07500</text><text x="674.4" y="421.85" textLength="26.4" lengthAdjust="spacingAndGlyphs">1.07000</text><text x="674.4" y="453.10" textLength="26.4" lengthAdjust="spacingAndGlyphs">1.06500</text><text x="674.4" y="484.35" textLength="26.4" lengthAdjust="spacingAndGlyphs">1.06000</text><text x="674.4" y="515.60" textLength="26.4" lengthAdjust="spacingAndGlyphs">1.05500</text><text x="674.4" y="546.85" textLength="26.4" lengthAdjust="spacingAndGlyphs">1.05000</text></g>
<rect x="668.6" y="359.3" width="38.9" height="20.4" fill="#f23645"/>
<text x="674.2" y="368.2" font-size="8.7" fill="#fff" textLength="26.5" lengthAdjust="spacingAndGlyphs">1.07859</text>
<text x="674.2" y="377.4" font-size="8.7" fill="#fff" textLength="29" lengthAdjust="spacingAndGlyphs">17:58:25</text>
<rect x="668.4" y="568.2" width="36.2" height="11.6" rx="1.2" fill="#ef4f52"/>
<text x="673.6" y="577.4" font-size="8.7" fill="#fff" textLength="27.8" lengthAdjust="spacingAndGlyphs">25.387K</text>
<line x1="0" y1="581.5" x2="710" y2="581.5" stroke="#e9ebf0" stroke-width="1"/>
<g font-size="8.3" fill="#131722" stroke="#131722" stroke-width="0.3"><text x="48.76" y="593.4" textLength="12.87" lengthAdjust="spacingAndGlyphs">Feb</text><text x="126.67" y="593.4" textLength="12.86" lengthAdjust="spacingAndGlyphs">Mar</text><text x="216.87" y="593.4" textLength="11.62" lengthAdjust="spacingAndGlyphs">Apr</text><text x="293.53" y="593.4" textLength="14.11" lengthAdjust="spacingAndGlyphs">May</text><text x="384.15" y="593.4" textLength="12.04" lengthAdjust="spacingAndGlyphs">Jun</text><text x="471.09" y="593.4" textLength="9.55" lengthAdjust="spacingAndGlyphs">Jul</text><text x="551.01" y="593.4" textLength="13.29" lengthAdjust="spacingAndGlyphs">Aug</text><text x="640.59" y="593.4" textLength="13.29" lengthAdjust="spacingAndGlyphs">Sep</text></g>
<polygon points="695.10,590.80 692.60,595.13 687.60,595.13 685.10,590.80 687.60,586.47 692.60,586.47" fill="none" stroke="#4a4e5a" stroke-width="0.9"/><circle cx="690.1" cy="590.8" r="1.5" fill="#b0b3bb" stroke="#4a4e5a" stroke-width="0.8"/>
<text x="20.6" y="14.8" font-size="10" fill="#131722" stroke="#131722" stroke-width="0.15" textLength="20.0" lengthAdjust="spacingAndGlyphs">Euro</text>
<text x="52.6" y="14.8" font-size="10" fill="#131722" stroke="#131722" stroke-width="0.15" textLength="19.2" lengthAdjust="spacingAndGlyphs">U.S.</text>
<text x="74.9" y="14.8" font-size="10" fill="#131722" stroke="#131722" stroke-width="0.15" textLength="27.3" lengthAdjust="spacingAndGlyphs">Dollar</text>
<text x="110.8" y="14.8" font-size="10" fill="#131722" stroke="#131722" stroke-width="0.15" textLength="11.2" lengthAdjust="spacingAndGlyphs">1D</text>
<text x="130" y="14.8" font-size="10" fill="#131722" stroke="#131722" stroke-width="0.15" textLength="25.0" lengthAdjust="spacingAndGlyphs">FXCM</text>
<line x1="44" y1="14.8" x2="48" y2="7.4" stroke="#131722" stroke-width="1"/>
<circle cx="106.2" cy="11.2" r="0.75" fill="#131722"/><circle cx="126" cy="11.2" r="0.75" fill="#131722"/>
<clipPath id="hf"><circle cx="14.3" cy="8.4" r="3.6"/></clipPath><g clip-path="url(#hf)"><rect x="10" y="4" width="9" height="9" fill="#fff"/><rect x="10" y="5.9" width="9" height="1.2" fill="#e0434f"/><rect x="10" y="8.3" width="9" height="1.2" fill="#e0434f"/><rect x="10" y="10.7" width="9" height="1.2" fill="#e0434f"/><rect x="10" y="4" width="4.3" height="4.2" fill="#5b9ee8"/></g>
<circle cx="9.7" cy="12.9" r="4.6" fill="#1f4e9c" stroke="#fff" stroke-width="0.9"/><circle cx="9.7" cy="12.9" r="2.4" fill="#2a6ac4" stroke="#5d8fd6" stroke-width="0.5" stroke-dasharray="0.6,0.8"/>
<path d="M171.2,4.8 H178 V16.4 H171.2 A5.8,5.8 0 0 1 171.2,4.8 Z" fill="#e3f3ee"/>
<path d="M178,4.8 H184.9 A5.8,5.8 0 0 1 184.9,16.4 H178 Z" fill="#fdd4e3"/>
<circle cx="172" cy="10.7" r="3.4" fill="#c9f3ea"/><circle cx="172" cy="10.7" r="2.6" fill="#089981"/>
<path d="M181,10.3 Q182.4,9 183.7,10 T186.4,9.7 M181,12.6 Q182.4,11.3 183.7,12.3 T186.4,12" fill="none" stroke="#c2185b" stroke-width="1.05"/>
<text x="200.6" y="14.3" font-size="8.5" fill="#131722" stroke="#131722" stroke-width="0.3" textLength="6" lengthAdjust="spacingAndGlyphs">O</text>
<text x="207.8" y="14.3" font-size="8.5" fill="#dc4556" stroke="#dc4556" stroke-width="0.1" textLength="29.4" lengthAdjust="spacingAndGlyphs">1.08103</text>
<text x="240.6" y="14.3" font-size="8.5" fill="#131722" stroke="#131722" stroke-width="0.3" textLength="6" lengthAdjust="spacingAndGlyphs">H</text>
<text x="247.3" y="14.3" font-size="8.5" fill="#dc4556" stroke="#dc4556" stroke-width="0.1" textLength="29.3" lengthAdjust="spacingAndGlyphs">1.08159</text>
<text x="280.8" y="14.3" font-size="8.5" fill="#131722" stroke="#131722" stroke-width="0.3" textLength="6" lengthAdjust="spacingAndGlyphs">L</text>
<text x="286.8" y="14.3" font-size="8.5" fill="#dc4556" stroke="#dc4556" stroke-width="0.1" textLength="28.6" lengthAdjust="spacingAndGlyphs">1.07828</text>
<text x="319.2" y="14.3" font-size="8.5" fill="#131722" stroke="#131722" stroke-width="0.3" textLength="6" lengthAdjust="spacingAndGlyphs">C</text>
<text x="326" y="14.3" font-size="8.5" fill="#dc4556" stroke="#dc4556" stroke-width="0.1" textLength="28.4" lengthAdjust="spacingAndGlyphs">1.07859</text>
<text x="358.2" y="14.3" font-size="8.5" fill="#dc4556" stroke="#dc4556" stroke-width="0.1" textLength="34" lengthAdjust="spacingAndGlyphs">−0.00244</text>
<text x="394.8" y="14.3" font-size="8.5" fill="#dc4556" stroke="#dc4556" stroke-width="0.1" textLength="31.9" lengthAdjust="spacingAndGlyphs">(−0.23%)</text>
<rect x="5.9" y="22.4" width="38.4" height="15.6" rx="2.5" fill="#fff" stroke="#f0a5ac" stroke-width="1"/>
<text x="10.9" y="33.5" font-size="8" fill="#f23645" textLength="25.1" lengthAdjust="spacingAndGlyphs">1.0785</text><text x="36.4" y="30.5" font-size="6" fill="#f23645">9</text>
<text x="49.6" y="33.5" font-size="8" fill="#131722" textLength="10.1" lengthAdjust="spacingAndGlyphs">0.3</text>
<rect x="65.3" y="22.4" width="38.6" height="15.6" rx="2.5" fill="#fff" stroke="#9db4f5" stroke-width="1"/>
<text x="70.5" y="33.5" font-size="8" fill="#2962ff" textLength="24.8" lengthAdjust="spacingAndGlyphs">1.0786</text><text x="95.5" y="30.5" font-size="6" fill="#2962ff">2</text>
<text x="5.9" y="52.8" font-size="8.2" fill="#131722" stroke="#131722" stroke-width="0.05" textLength="11" lengthAdjust="spacingAndGlyphs">Vol</text>
<text x="22.4" y="52.8" font-size="8.4" fill="#e5505e" stroke="#e5505e" stroke-width="0.1" textLength="30" lengthAdjust="spacingAndGlyphs">25.387K</text>
<rect x="7.3" y="59.5" width="16.7" height="12.5" rx="2" fill="#fff" stroke="#e0e3eb" stroke-width="1"/>
<path d="M13.3,67.3 L15.6,65 L17.9,67.3" fill="none" stroke="#131722" stroke-width="1.1"/>
<g>
<path d="M7.8,561 H15.8 V570.4 H12 V565 H7.8 Z" fill="#131722" stroke="#fff" stroke-width="1.6" paint-order="stroke"/>
<circle cx="19" cy="562.9" r="1.75" fill="#131722" stroke="#fff" stroke-width="1.6" paint-order="stroke"/>
<path d="M21.4,561 H26.5 L23.2,570.4 H18.1 Z" fill="#131722" stroke="#fff" stroke-width="1.6" paint-order="stroke"/>
<text x="32" y="571" font-size="13.3" font-weight="bold" fill="#131722" stroke="#fff" stroke-width="2" paint-order="stroke" textLength="78" lengthAdjust="spacingAndGlyphs">TradingView</text>
</g>
<circle cx="628" cy="537.4" r="6.4" fill="#fff" stroke="#9c27b0" stroke-width="1.1"/><path d="M629.6,533.2 L625.6,538 H628.2 L626.2,541.6 L630.4,536.6 H627.8 Z" fill="#9c27b0"/>
<clipPath id="cu2"><circle cx="636" cy="571.8" r="5.4"/></clipPath><circle cx="636" cy="571.8" r="6.9" fill="#fff" stroke="#f23645" stroke-width="1.1"/><g clip-path="url(#cu2)"><rect x="630" y="565.8" width="12" height="12" fill="#fff"/><rect x="630" y="567.20" width="12" height="1.3" fill="#e0434f"/><rect x="630" y="569.80" width="12" height="1.3" fill="#e0434f"/><rect x="630" y="572.40" width="12" height="1.3" fill="#e0434f"/><rect x="630" y="575.00" width="12" height="1.3" fill="#e0434f"/><rect x="630" y="565.8" width="6" height="5.6" fill="#3f7fe0"/></g>
<clipPath id="cu1"><circle cx="628" cy="554.6" r="5.4"/></clipPath><circle cx="628" cy="554.6" r="6.9" fill="#fff" stroke="#f23645" stroke-width="1.1"/><g clip-path="url(#cu1)"><rect x="622" y="548.6" width="12" height="12" fill="#fff"/><rect x="622" y="550.00" width="12" height="1.3" fill="#e0434f"/><rect x="622" y="552.60" width="12" height="1.3" fill="#e0434f"/><rect x="622" y="555.20" width="12" height="1.3" fill="#e0434f"/><rect x="622" y="557.80" width="12" height="1.3" fill="#e0434f"/><rect x="622" y="548.6" width="6" height="5.6" fill="#3f7fe0"/></g>
<circle cx="627.2" cy="571.8" r="6.9" fill="#fff" stroke="#f23645" stroke-width="1.1"/><circle cx="627.2" cy="571.8" r="5.4" fill="#1d4f9f"/><circle cx="627.2" cy="571.8" r="3.3" fill="#2a66c4" stroke="#b9c8ee" stroke-width="0.6" stroke-dasharray="0.8,1.2"/>
</svg></body></html>
